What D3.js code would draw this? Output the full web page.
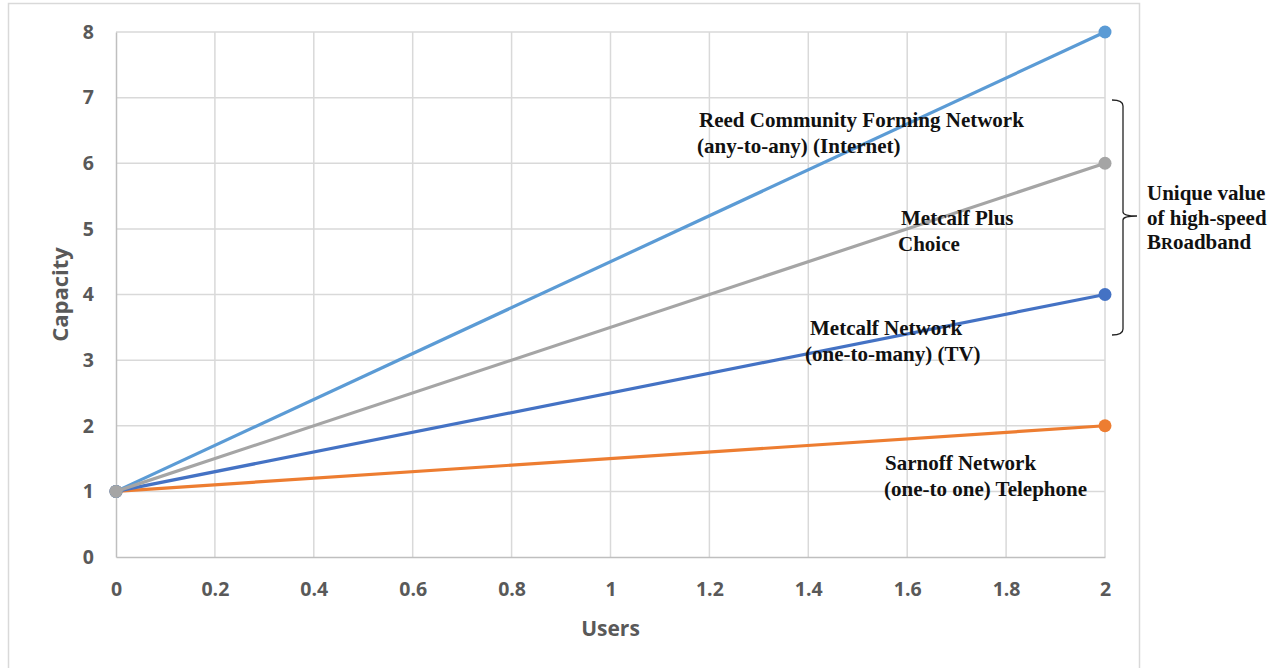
<!DOCTYPE html>
<html>
<head>
<meta charset="utf-8">
<script src="https://cdn.jsdelivr.net/npm/d3@7"></script>
<style>
  html, body { margin: 0; padding: 0; background: #fff; }
  svg { display: block; }
</style>
</head>
<body>
<svg id="chart" width="1276" height="668"></svg>
<script>
// Network value growth: capacity versus users for four network models
const users = [0, 2];
const sarnoff = [1, 2];
const metcalf = [1, 4];
const reed = [1, 8];
const metcalfPlus = [1, 6];

const xTicks = [0, 0.2, 0.4, 0.6, 0.8, 1, 1.2, 1.4, 1.6, 1.8, 2];
const yTicks = [0, 1, 2, 3, 4, 5, 6, 7, 8];

const seriesNames = ["Sarnoff", "Metcalf", "Reed", "Metcalf Plus"];
const seriesColors = ["#ED7D31", "#4472C4", "#5B9BD5", "#A5A5A5"];
const seriesValues = [sarnoff, metcalf, reed, metcalfPlus];

const labelLines = [
  ["Reed Community Forming Network", "(any-to-any) (Internet)"],
  ["Metcalf Plus", "Choice"],
  ["Metcalf Network", "(one-to-many) (TV)"],
  ["Sarnoff Network", "(one-to one) Telephone"]
];

const svg = d3.select("#chart");

const x = d3.scaleLinear().domain([0, 2]).range([116, 1105]);
const y = d3.scaleLinear().domain([0, 8]).range([557, 32]);

// outer chart frame
svg.append("rect")
  .attr("x", 8.5).attr("y", 3.5)
  .attr("width", 1131).attr("height", 700)
  .attr("fill", "none").attr("stroke", "#d9d9d9").attr("stroke-width", 1.5);

// gridlines
const grid = svg.append("g");
grid.selectAll("line.v").data(xTicks.slice(1)).join("line")
  .attr("x1", d => x(d)).attr("x2", d => x(d))
  .attr("y1", y(8)).attr("y2", y(0))
  .attr("stroke", "#d9d9d9").attr("stroke-width", 1.5);
grid.selectAll("line.h").data(yTicks.slice(1)).join("line")
  .attr("x1", x(0)).attr("x2", x(2))
  .attr("y1", d => y(d)).attr("y2", d => y(d))
  .attr("stroke", "#d9d9d9").attr("stroke-width", 1.5);

// axes
const xAxis = svg.append("g")
  .attr("transform", `translate(0,${y(0)})`)
  .call(d3.axisBottom(x).tickValues(xTicks).tickSize(0).tickPadding(25)
    .tickFormat(d => d3.format("")(+d.toFixed(1))));
const yAxis = svg.append("g")
  .attr("transform", `translate(${x(0)},0)`)
  .call(d3.axisLeft(y).tickValues(yTicks).tickSize(0).tickPadding(22));

[xAxis, yAxis].forEach(g => {
  g.select(".domain").attr("stroke", "#bfbfbf").attr("stroke-width", 1.5);
  g.selectAll("text")
    .attr("fill", "#595959")
    .attr("font-family", "'Open Sans', sans-serif")
    .attr("font-weight", "bold")
    .attr("font-size", 19.5);
});

// axis titles
svg.append("text")
  .attr("x", x(1)).attr("y", 636)
  .attr("text-anchor", "middle")
  .attr("fill", "#595959")
  .attr("font-family", "'Open Sans', sans-serif")
  .attr("font-weight", "bold").attr("font-size", 21)
  .text("Users");
svg.append("text")
  .attr("transform", `translate(68,${y(4)}) rotate(-90)`)
  .attr("text-anchor", "middle")
  .attr("fill", "#595959")
  .attr("font-family", "'Open Sans', sans-serif")
  .attr("font-weight", "bold").attr("font-size", 22)
  .text("Capacity");

// series lines and markers
const line = d3.line().x((d, i) => x(users[i])).y(d => y(d));
const seriesG = svg.append("g");
seriesValues.forEach((vals, k) => {
  const g = seriesG.append("g").attr("class", "series-" + seriesNames[k]);
  g.append("path")
    .datum(vals)
    .attr("d", line)
    .attr("fill", "none")
    .attr("stroke", seriesColors[k])
    .attr("stroke-width", 3.2);
  g.selectAll("circle").data(vals).join("circle")
    .attr("cx", (d, i) => x(users[i]))
    .attr("cy", d => y(d))
    .attr("r", 6.5)
    .attr("fill", seriesColors[k]);
});

// series annotations: [x of line 1, x of line 2, baseline of line 1]
const labelPos = [
  [699, 697, 127],
  [901, 898, 225],
  [810, 805, 335],
  [885, 884, 470]
];
const ann = svg.append("g")
  .attr("font-family", "'Liberation Serif', 'Times New Roman', serif")
  .attr("font-weight", "bold")
  .attr("font-size", 21)
  .attr("fill", "#111");
labelLines.forEach((lines, k) => {
  const t = ann.append("text").attr("y", labelPos[k][2]);
  lines.forEach((s, i) => {
    t.append("tspan")
      .attr("x", labelPos[k][i])
      .attr("dy", i ? 26 : 0)
      .text(s);
  });
});

// brace spanning the high-speed broadband series
const braceTop = 100, braceMid = 216, braceBot = 335;
svg.append("path")
  .attr("d", `M1112,${braceTop} Q1123,${braceTop} 1123,${braceTop + 6}
              L1123,${braceMid - 4} Q1123,${braceMid} 1137,${braceMid}
              Q1123,${braceMid} 1123,${braceMid + 4}
              L1123,${braceBot - 6} Q1123,${braceBot} 1112,${braceBot}`)
  .attr("fill", "none")
  .attr("stroke", "#222")
  .attr("stroke-width", 1.3);

const side = svg.append("text")
  .attr("font-family", "'Liberation Serif', 'Times New Roman', serif")
  .attr("font-weight", "bold")
  .attr("font-size", 21)
  .attr("fill", "#111");
side.append("tspan").attr("x", 1147).attr("y", 200).text("Unique value");
side.append("tspan").attr("x", 1147).attr("y", 225).text("of high-speed");
const l3 = side.append("tspan").attr("x", 1147).attr("y", 249);
l3.append("tspan").text("B");
l3.append("tspan").attr("font-size", 16.5).text("R");
l3.append("tspan").text("oadband");
</script>
</body>
</html>
